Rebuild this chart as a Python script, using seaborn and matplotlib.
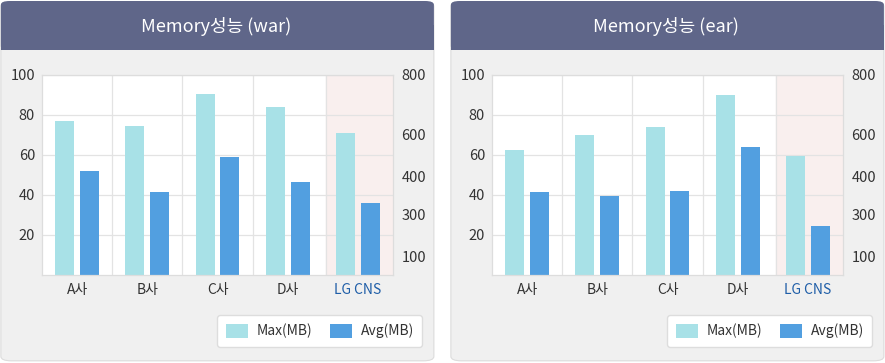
import pandas as pd
import matplotlib.pyplot as plt
import seaborn as sns
from matplotlib.patches import FancyBboxPatch, Rectangle

# data
companies = ['A사', 'B사', 'C사', 'D사', 'LG CNS']
war_max = [77, 74.5, 90.5, 84, 71]
war_avg = [52, 41.5, 59, 46.5, 36]
ear_max = [62.5, 70, 74, 90, 59.5]
ear_avg = [41.5, 39.5, 42, 64, 24.5]
titles = ['Memory성능 (war)', 'Memory성능 (ear)']
series = ['Max(MB)', 'Avg(MB)']
left_ticks = [20, 40, 60, 80, 100]
right_labels = ['100', '300', '400', '600', '800']
right_pos = [9.5, 30, 49.5, 70, 100]

sns.set_theme(style='white')
plt.rcParams['font.family'] = ['Noto Sans CJK KR', 'DejaVu Sans']

W, H = 885, 363
fig = plt.figure(figsize=(W / 100, H / 100), dpi=100)
fig.patch.set_facecolor('white')

colors = ['#a8e1e7', '#529fe0']

def card(x0):
    # grey body with rounded corners
    fig.patches.append(FancyBboxPatch((x0 / W + 0.001, 0.006), 433 / W, 0.988,
                                      boxstyle='round,pad=0,rounding_size=0.012',
                                      transform=fig.transFigure, fc='#f0f0f0',
                                      ec='#dcdcdc', lw=0.8, zorder=0))
    # dark header
    fig.patches.append(FancyBboxPatch((x0 / W + 0.001, (H - 50) / H), 433 / W, 49 / H,
                                      boxstyle='round,pad=0,rounding_size=0.01',
                                      transform=fig.transFigure, fc='#5f6689',
                                      ec='none', zorder=1))
    fig.patches.append(Rectangle((x0 / W + 0.001, (H - 50) / H), 433 / W, 25 / H,
                                 transform=fig.transFigure, fc='#5f6689',
                                 ec='none', zorder=1))

for i, (mx, av) in enumerate([(war_max, war_avg), (ear_max, ear_avg)]):
    x0 = 0 if i == 0 else 450
    card(x0)
    fig.text((x0 + 216) / W, (H - 26) / H, titles[i], color='white',
             fontsize=13, ha='center', va='center', zorder=3)

    df = pd.DataFrame({
        'company': companies * 2,
        'value': mx + av,
        'series': [series[0]] * 5 + [series[1]] * 5,
    })

    ax = fig.add_axes([(x0 + 42) / W, (H - 275) / H, 351 / W, 200 / H])
    ax.set_zorder(5)
    ax.set_facecolor('white')
    ax.axvspan(3.55, 4.5, color='#f9efee', zorder=0)
    sns.barplot(data=df, x='company', y='value', hue='series', palette=colors,
                width=0.71, gap=0.24, ax=ax, zorder=2, saturation=1,
                edgecolor='none', linewidth=0)
    ax.set_xlim(-0.5, 4.5)
    ax.set_ylim(0, 100)
    ax.set_yticks(left_ticks)
    ax.set_xlabel('')
    ax.set_ylabel('')
    for y in left_ticks:
        ax.axhline(y, color='#e3e3e3', lw=0.9, zorder=1)
    for xv in [0.5, 1.5, 2.5, 3.55]:
        ax.axvline(xv, color='#e3e3e3', lw=0.9, zorder=1)
    for s in ax.spines.values():
        s.set_color('#dddddd')
        s.set_linewidth(0.9)
    ax.tick_params(axis='both', length=0, labelsize=10.5, colors='#333333')
    ax.tick_params(axis='y', pad=5)
    ax.tick_params(axis='x', pad=6, labelsize=10)
    ax.get_xticklabels()[-1].set_color('#1f5ea8')

    ax2 = ax.twinx()
    ax2.set_zorder(6)
    ax2.patch.set_visible(False)
    ax2.set_ylim(0, 100)
    ax2.set_yticks(right_pos)
    ax2.set_yticklabels(right_labels)
    ax2.tick_params(axis='y', length=0, labelsize=10.5, colors='#333333', pad=6)
    for s in ax2.spines.values():
        s.set_visible(False)
    ax2.grid(False)

    handles, labels = ax.get_legend_handles_labels()
    ax.get_legend().remove()
    leg = ax2.legend(handles, labels, loc='center right', ncol=2,
                     bbox_to_anchor=((x0 + 429) / W, (H - 331) / H),
                     bbox_transform=fig.transFigure, frameon=True, fancybox=True,
                     fontsize=10, handlelength=1.6, handleheight=1.2,
                     columnspacing=1.3, borderpad=0.6, handletextpad=0.6)
    leg.get_frame().set_edgecolor('#dddddd')
    leg.get_frame().set_facecolor('white')
    leg.get_frame().set_alpha(1)
    for t in leg.get_texts():
        t.set_color('#333333')

fig.savefig('out.png', dpi=100)
